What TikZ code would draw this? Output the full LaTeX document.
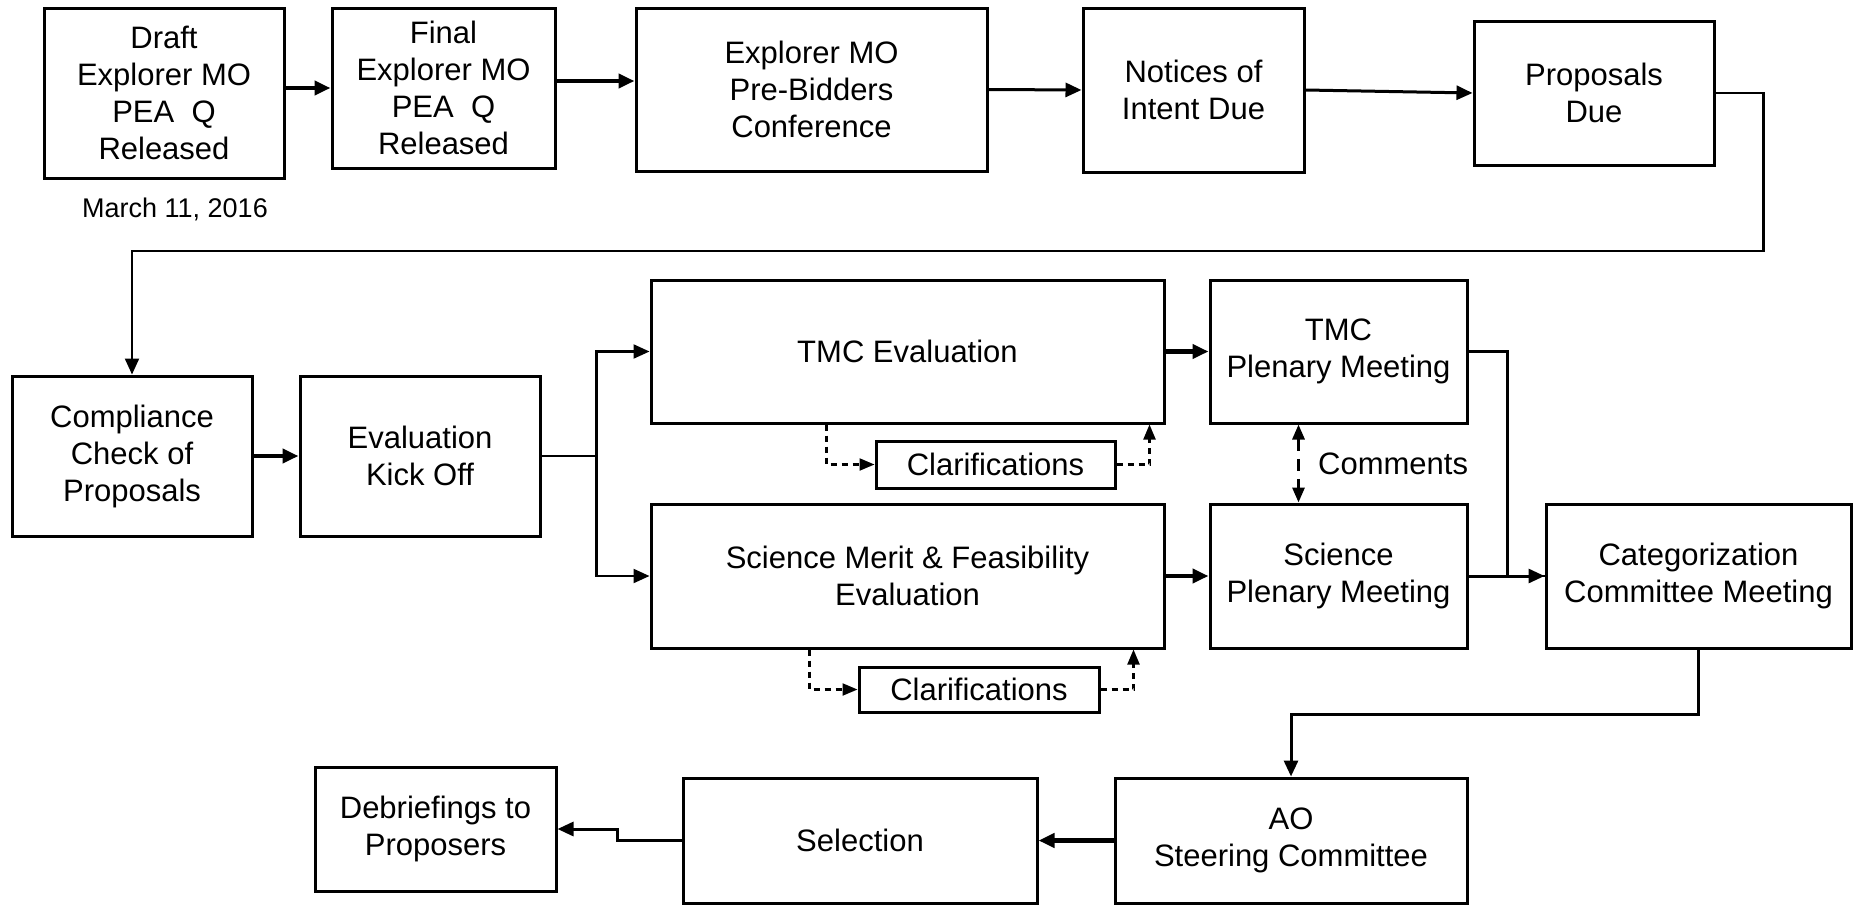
\documentclass[tikz,border=0pt]{standalone}
\usepackage{fontspec}
\setmainfont{Liberation Sans}
\usetikzlibrary{arrows.meta,calc}
\begin{document}
\begin{tikzpicture}[x=1pt,y=-1pt,
  box/.style={draw, line width=3pt, align=center, inner sep=2pt, font=\fontsize{31}{37}\selectfont},
  tip/.style={-{Triangle[length=16pt,width=14pt]}},
  heavy/.style={line width=4.5pt, tip},
  med/.style={line width=3pt},
  light/.style={line width=2.2pt},
  dashconn/.style={line width=2.2pt, dash pattern=on 6pt off 5pt, -{Triangle[length=15pt,width=12pt]}},
  commconn/.style={line width=3pt, dash pattern=on 12pt off 8pt, {Triangle[length=15pt,width=12pt]}-{Triangle[length=15pt,width=12pt]}}
]
\useasboundingbox[fill=white] (0,0) rectangle (1858,905);

% top row
\node[box, minimum width=240pt, minimum height=170pt] (draft) at (164,93) {Draft\\Explorer MO\\PEA~~Q\\Released};
\node[box, minimum width=223pt, minimum height=160pt] (final) at (443.5,88) {Final\\Explorer MO\\PEA~~Q\\Released};
\node[box, minimum width=351pt, minimum height=163pt] (conf) at (811.5,89.5) {Explorer MO\\Pre-Bidders\\Conference};
\node[box, minimum width=221pt, minimum height=164pt] (notices) at (1193.5,90) {Notices of\\Intent Due};
\node[box, minimum width=240pt, minimum height=144pt] (proposals) at (1594,93) {Proposals\\Due};
\node[font=\fontsize{27}{32}\selectfont] (date) at (175,209) {March 11, 2016};

% middle rows
\node[box, minimum width=240pt, minimum height=160pt] (compliance) at (132,456) {Compliance\\Check of\\Proposals};
\node[box, minimum width=240pt, minimum height=160pt] (kickoff) at (420,456) {Evaluation\\Kick Off};
\node[box, minimum width=513pt, minimum height=143pt] (tmceval) at (907.5,351.5) {TMC Evaluation};
\node[box, minimum width=239pt, minimum height=47pt] (clar1) at (995.5,464.5) {Clarifications};
\node[box, minimum width=513pt, minimum height=144pt] (scieval) at (907.5,576) {Science Merit \& Feasibility\\Evaluation};
\node[box, minimum width=240pt, minimum height=45pt] (clar2) at (979,689.5) {Clarifications};
\node[box, minimum width=257pt, minimum height=143pt] (tmcplen) at (1338.5,351.5) {TMC\\Plenary Meeting};
\node[box, minimum width=257pt, minimum height=144pt] (sciplen) at (1338.5,576) {Science\\Plenary Meeting};
\node[box, minimum width=305pt, minimum height=144pt] (categ) at (1698.5,576) {Categorization\\Committee Meeting};
\node[font=\fontsize{31}{37}\selectfont, anchor=west, inner sep=0pt] (comments) at (1318,464) {Comments};

% bottom row
\node[box, minimum width=352pt, minimum height=125pt] (ao) at (1291,840.5) {AO\\Steering Committee};
\node[box, minimum width=354pt, minimum height=125pt] (selection) at (860,840.5) {Selection};
\node[box, minimum width=241pt, minimum height=124pt] (debrief) at (435.5,829) {Debriefings to\\Proposers};

% connectors top row
\draw[heavy] (draft.east |- final.west) -- (final.west);
\coordinate (fa) at ([yshift=7pt]final.east);
\draw[heavy] (fa) -- (conf.west |- fa);
\draw[med, tip] (conf.east) -- (notices.west);
\draw[med, tip] (notices.east) -- (proposals.west);
\coordinate (loopy) at (0,251);
\draw[light, tip] (proposals.east) -- ++(48,0) |- (compliance.north |- loopy) -- (compliance.north);

% middle
\draw[heavy] (compliance.east) -- (kickoff.west);
\draw[light] (kickoff.east) -- ++(55,0) coordinate (br);
\draw[light, tip] (br) |- (tmceval.west);
\draw[light, tip] (br) |- (scieval.west);
\draw[heavy] (tmceval.east) -- (tmcplen.west);
\draw[heavy] (scieval.east) -- (sciplen.west);

\coordinate (c1a) at ([xshift=-48pt]clar1.west);
\coordinate (c1b) at ([xshift=33pt]clar1.east);
\coordinate (c2a) at ([xshift=-48pt]clar2.west);
\coordinate (c2b) at ([xshift=33pt]clar2.east);
\draw[dashconn] (c1a |- tmceval.south) |- (clar1.west);
\draw[dashconn] (clar1.east) -| (c1b |- tmceval.south);
\draw[dashconn] (c2a |- scieval.south) |- (clar2.west);
\draw[dashconn] (clar2.east) -| (c2b |- scieval.south);

\coordinate (cmt) at ([xshift=-40pt]tmcplen.south);
\draw[commconn] (cmt) -- (cmt |- sciplen.north);

\draw[light] (tmcplen.east) -- ++(39,0) |- (categ.west);
\draw[med, tip] (sciplen.east) -- (categ.west);

% bottom
\draw[med, tip] (categ.south) -- ++(0,65) -| (ao.north);
\draw[heavy] (ao.west) -- (selection.east);
\draw[med, tip] (selection.west) -- ++(-64,0) |- (debrief.east);
\end{tikzpicture}
\end{document}
